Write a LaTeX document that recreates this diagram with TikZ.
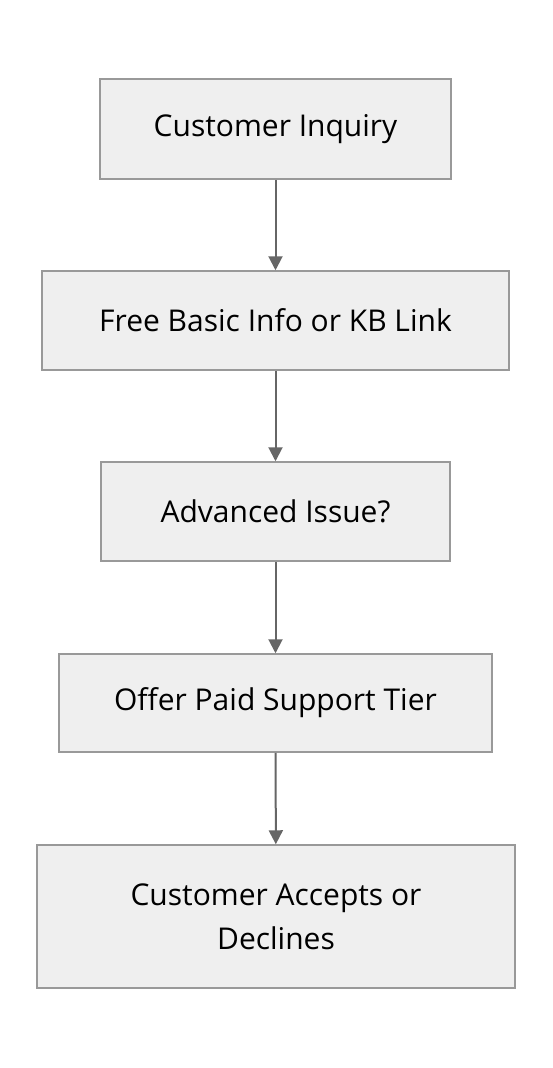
\documentclass[tikz,border=0pt]{standalone}
\usepackage{fontspec}
\setmainfont{Open Sans}
\usetikzlibrary{arrows.meta}
\usetikzlibrary{positioning}
\definecolor{mfill}{HTML}{EFEFEF}
\definecolor{mline}{HTML}{999999}
\definecolor{marrow}{HTML}{666666}
\tikzset{procbox/.style = {draw = mline, fill = mfill, line width = 1.5, align = center, inner sep = 0,
    font = \fontsize{30}{44}\selectfont}}
\tikzset{flow/.style = {draw = marrow, line width = 2, -{Triangle[length = 14, width = 14]}}}

\begin{document}
\begin{tikzpicture}[x=1pt, y=-1pt]
      \useasboundingbox (0, 0) rectangle (552, 1068);
      \node [procbox, minimum width = 351, minimum height = 100] (inquiry) at (275.5, 129) {Customer Inquiry};
      \node [procbox, minimum width = 467, minimum height = 99] (basic) at (275.5, 320.5) {Free Basic Info or KB Link};
      \node [procbox, minimum width = 349, minimum height = 99] (advanced) at (275.5, 511.5) {Advanced Issue?};
      \node [procbox, minimum width = 433, minimum height = 98] (offer) at (275.5, 703) {Offer Paid Support Tier};
      \node [procbox, minimum width = 478, minimum height = 143] (decide) at (276, 916.5) {Customer Accepts or\\Declines};

      \draw [flow] (inquiry) -- (basic);
      \draw [flow] (basic) -- (advanced);
      \draw [flow] (advanced) -- (offer);
      \draw [flow] (offer) -- (decide);
\end{tikzpicture}
\end{document}
